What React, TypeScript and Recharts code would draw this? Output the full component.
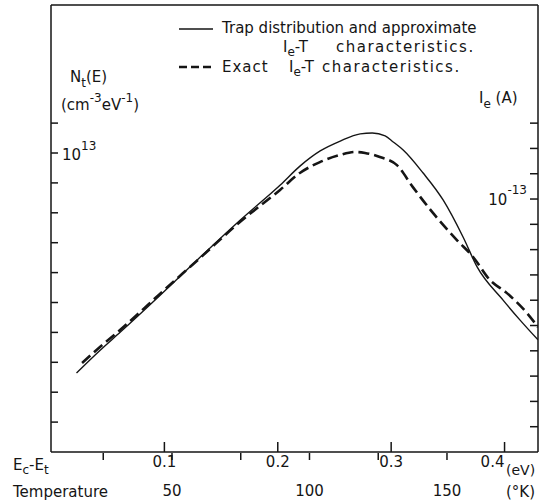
import React from 'react';
import { LineChart, Line, XAxis, YAxis, ReferenceLine } from 'recharts';

// Trap distribution Nt(E), in units of 1e12 cm^-3 eV^-1, against Ec - Et (eV)
const trapEv = [0.0225, 0.0436, 0.0612, 0.0965, 0.1317, 0.167, 0.2022, 0.2198, 0.2374, 0.2551, 0.2727, 0.2833, 0.2947, 0.3018, 0.3106, 0.3282, 0.3458, 0.3634, 0.3758, 0.3987, 0.4137, 0.4295];
const trapNt = [2.64, 3.41, 4.01, 5.25, 6.52, 7.76, 8.93, 9.57, 10.07, 10.4, 10.64, 10.67, 10.57, 10.37, 10.1, 9.33, 8.43, 7.19, 6.19, 5.08, 4.41, 3.75];

// Exact Ie-T characteristic, Ie in units of 1e-14 A, against temperature (K)
const exactT = [17.3, 23.8, 31.1, 45.6, 60.2, 74.7, 89.3, 96.5, 103.8, 111.1, 116.5, 120.2, 125.6, 131.8, 137.6, 144.9, 153.6, 159.5, 165.6, 171.8, 179.1, 183.1];
const exactIe = [3.52, 4.15, 4.82, 6.25, 7.67, 9.09, 10.36, 11.03, 11.46, 11.74, 11.86, 11.82, 11.66, 11.34, 10.47, 9.45, 8.38, 7.71, 6.8, 6.28, 5.49, 4.94];

const evTicks = [0.1, 0.2, 0.3, 0.4];
const tempTicks = [25, 50, 75, 100, 125, 150];
const tempLabels = [50, 100, 150];
const ntTicks = [1, 2, 3, 4, 5, 6, 7, 8, 9, 10, 11];
const ieTicks = [1, 2, 3, 4, 5, 6, 7, 8, 9, 10, 11, 12, 13];

const EV_DOMAIN = [0, 0.4295];
const T_DOMAIN = [6, 183.1];
const NT_MAX = 14.95;
const IE_MAX = 17.67;

const INK = '#151515';
const FONT = '"DejaVu Sans", sans-serif';

const trapData = trapEv.map((ev, i) => ({ ev, nt: trapNt[i] }));
const exactData = exactT.map((t, i) => ({ t, ie: exactIe[i] }));

const EvTick = (props: any) => {
  const { x, y, payload } = props;
  // the last label sits left of its tick, clear of "(eV)"
  const lx = payload.value === 0.4 ? x - 12 : x;
  return (
    <g>
      <line x1={x} y1={y} x2={x} y2={y - 10} stroke={INK} strokeWidth={1.5} />
      <text x={lx} y={y + 15} textAnchor="middle" fontSize={15} fontFamily={FONT} fill={INK}>
        {payload.value}
      </text>
    </g>
  );
};

const TempTick = (props: any) => {
  const { x, y, payload } = props;
  return (
    <g>
      <line x1={x} y1={y} x2={x} y2={y + 7} stroke={INK} strokeWidth={1.5} />
      {tempLabels.includes(payload.value) && (
        <text x={x} y={y + 43} textAnchor="middle" fontSize={15} fontFamily={FONT} fill={INK}>
          {payload.value}
        </text>
      )}
    </g>
  );
};

const NtTick = (props: any) => {
  const { x, y, payload } = props;
  return (
    <g>
      <line x1={x} y1={y} x2={x + 7} y2={y} stroke={INK} strokeWidth={1.5} />
      {payload.value === 10 && (
        <text x={x + 11} y={y + 7} fontSize={15} fontFamily={FONT} fill={INK}>
          10<tspan dy={-10} fontSize={12}>13</tspan>
        </text>
      )}
    </g>
  );
};

const IeTick = (props: any) => {
  const { x, y, payload } = props;
  return (
    <g>
      <line x1={x} y1={y} x2={x - 8} y2={y} stroke={INK} strokeWidth={1.5} />
      {payload.value === 10 && (
        <text x={x - 11} y={y + 6} textAnchor="end" fontSize={15} fontFamily={FONT} fill={INK}>
          10<tspan dy={-11} fontSize={12}>-13</tspan>
        </text>
      )}
    </g>
  );
};

const txt = { fontSize: 15, fontFamily: FONT, fill: INK };

export default function App() {
  return (
    <div style={{ position: 'absolute', left: 0, top: 0, width: 547, height: 504, background: '#fff' }}>
      <LineChart width={547} height={504} margin={{ top: 5, right: 0, bottom: 50, left: 0 }}>
        <XAxis
          xAxisId="ev"
          dataKey="ev"
          type="number"
          domain={EV_DOMAIN}
          allowDataOverflow
          ticks={evTicks}
          height={1}
          tickSize={0}
          tickMargin={0}
          tickLine={false}
          tick={<EvTick />}
          axisLine={{ stroke: INK, strokeWidth: 1.5 }}
        />
        <XAxis
          xAxisId="t"
          dataKey="t"
          type="number"
          domain={T_DOMAIN}
          allowDataOverflow
          ticks={tempTicks}
          height={1}
          tickSize={0}
          tickMargin={0}
          tickLine={false}
          tick={<TempTick />}
          axisLine={false}
        />
        <YAxis
          yAxisId="nt"
          type="number"
          domain={[0, NT_MAX]}
          allowDataOverflow
          ticks={ntTicks}
          width={51}
          tickSize={0}
          tickMargin={0}
          tickLine={false}
          tick={<NtTick />}
          axisLine={{ stroke: INK, strokeWidth: 1.5 }}
        />
        <YAxis
          yAxisId="ie"
          orientation="right"
          type="number"
          domain={[0, IE_MAX]}
          allowDataOverflow
          ticks={ieTicks}
          width={9}
          tickSize={0}
          tickMargin={0}
          tickLine={false}
          tick={<IeTick />}
          axisLine={{ stroke: INK, strokeWidth: 1.5 }}
        />
        <ReferenceLine xAxisId="ev" yAxisId="nt" y={NT_MAX} stroke={INK} strokeWidth={1.5} />
        <Line
          xAxisId="ev"
          yAxisId="nt"
          data={trapData}
          dataKey="nt"
          type="monotone"
          stroke={INK}
          strokeWidth={1.4}
          dot={false}
          isAnimationActive={false}
        />
        <Line
          xAxisId="t"
          yAxisId="ie"
          data={exactData}
          dataKey="ie"
          type="monotone"
          stroke={INK}
          strokeWidth={2.6}
          strokeDasharray="11 5"
          dot={false}
          isAnimationActive={false}
        />
      </LineChart>

      {/* legend and axis titles */}
      <svg width={547} height={504} style={{ position: 'absolute', left: 0, top: 0, pointerEvents: 'none' }}>
        <line x1={179} y1={29} x2={213} y2={29} stroke={INK} strokeWidth={1.5} />
        <text x={222} y={33} {...txt}>Trap distribution and approximate</text>
        <text x={283} y={52} {...txt}>
          I<tspan dy={4} fontSize={12}>e</tspan><tspan dy={-4}>-T</tspan>
        </text>
        <text x={336} y={52} {...txt} letterSpacing={1.5}>characteristics.</text>
        <line x1={179} y1={67} x2={215} y2={67} stroke={INK} strokeWidth={2.6} strokeDasharray="8 4" />
        <text x={222} y={72} {...txt} letterSpacing={1}>Exact</text>
        <text x={289} y={72} {...txt}>
          I<tspan dy={4} fontSize={12}>e</tspan><tspan dy={-4}>-T</tspan>
        </text>
        <text x={322} y={72} {...txt} letterSpacing={1.5}>characteristics.</text>

        <text x={70} y={82} {...txt}>
          N<tspan dy={5} fontSize={12}>t</tspan><tspan dy={-5}>(E)</tspan>
        </text>
        <text x={61} y={110} {...txt}>
          (cm<tspan dy={-8} fontSize={12}>-3</tspan><tspan dy={8}>eV</tspan>
          <tspan dy={-8} fontSize={12}>-1</tspan><tspan dy={8}>)</tspan>
        </text>

        <text x={479} y={103} {...txt}>
          I<tspan dy={5} fontSize={12}>e</tspan><tspan dy={-5}> (A)</tspan>
        </text>

        <text x={13} y={470} {...txt}>
          E<tspan dy={4} fontSize={12}>c</tspan><tspan dy={-4}>-E</tspan><tspan dy={4} fontSize={12}>t</tspan>
        </text>
        <text x={13} y={497} {...txt}>Temperature</text>
        <text x={506} y={475} {...txt} fontSize={14}>(eV)</text>
        <text x={506} y={497} {...txt}>(°K)</text>
      </svg>
    </div>
  );
}
